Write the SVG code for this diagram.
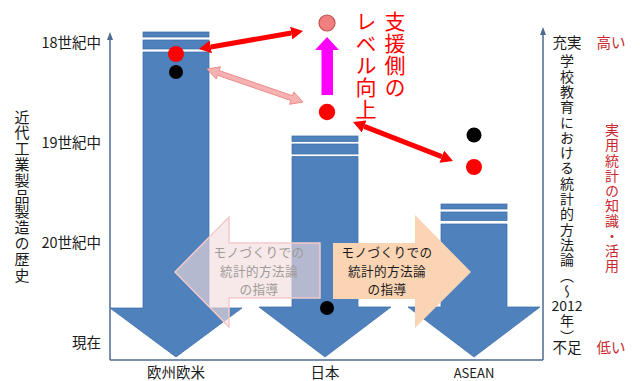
<svg xmlns="http://www.w3.org/2000/svg" width="640" height="381" viewBox="0 0 640 381">
<style>
text{font-family:"Noto Sans CJK JP","Noto Sans",sans-serif;fill:#1a1a1a}
.lbl{font-size:14.5px}
.vt{writing-mode:vertical-rl;text-anchor:start}
.v14{font-size:14px;letter-spacing:1.3px}
.v15{font-size:15px;letter-spacing:0.8px}
.vr{font-size:14px;letter-spacing:1.1px;fill:#c8282e}
.rd{fill:#c8282e}
.big{font-size:21px;letter-spacing:1px;fill:#ff0000}
.bar{fill:#4f81bd;stroke:#3f6ea8;stroke-width:0.75}
.axis{stroke:#4d6a90;stroke-width:1.5;fill:none}
.box{font-size:12.6px;letter-spacing:0.4px;text-anchor:middle}
</style>
<defs>
<marker id="ah" viewBox="0 0 12 13" refX="0" refY="6.5" markerWidth="12" markerHeight="13" markerUnits="userSpaceOnUse" orient="auto-start-reverse">
<path d="M0,0 L12,6.5 L0,13 Z" fill="#ff0000"/>
</marker>
<marker id="ax" viewBox="0 0 8 8" refX="4" refY="4" markerWidth="8" markerHeight="8" markerUnits="userSpaceOnUse" orient="auto">
<path d="M0,1 L8,4 L0,7 Z" fill="#4d6a90"/>
</marker>
</defs>
<rect width="640" height="381" fill="#ffffff"/>

<g id="axes">
<path class="axis" d="M110,360 V36" marker-end="url(#ax)"/>
<path class="axis" d="M543,360 V31" marker-end="url(#ax)"/>
<path class="axis" d="M110,360 H543"/>
</g>

<g id="left-labels">
<text class="lbl" x="101" y="48" text-anchor="end">18世紀中</text>
<text class="lbl" x="101" y="148" text-anchor="end">19世紀中</text>
<text class="lbl" x="101" y="248" text-anchor="end">20世紀中</text>
<text class="lbl" x="101" y="348" text-anchor="end">現在</text>
<text class="vt v15" x="22" y="109.5">近代工業製品製造の歴史</text>
</g>

<g id="europe">
<rect class="bar" x="143" y="32" width="66" height="5"/>
<rect class="bar" x="143" y="40" width="66" height="9"/>
<path class="bar" d="M143,52 H209 V308 H242 L176,357 L110,308 H143 Z"/>
<text class="lbl" x="176" y="378" text-anchor="middle">欧州欧米</text>
</g>

<g id="japan">
<rect class="bar" x="292" y="136" width="66" height="5.5"/>
<rect class="bar" x="292" y="144" width="66" height="10"/>
<path class="bar" d="M292,156.5 H358 V307 H391 L325,357 L259,307 H292 Z"/>
<text class="lbl" x="325" y="378" text-anchor="middle">日本</text>
</g>

<g id="asean">
<rect class="bar" x="441" y="204" width="66" height="5"/>
<rect class="bar" x="441" y="212" width="66" height="8.5"/>
<path class="bar" d="M441,224 H507 V307 H540 L474,357 L408,307 H441 Z"/>
<text x="474" y="378" text-anchor="middle" style="font-size:13px">ASEAN</text>
</g>

<g id="guide-past">
<path d="M320,243 V298 H229 V327 L175,272 L229,217 V243 Z" fill="#f2dcdb" fill-opacity="0.62" stroke="#f3caca" stroke-width="1.5"/>
<text class="box" style="fill:#a09a9a"><tspan x="259" y="257">モノづくりでの</tspan><tspan x="259" y="275.5">統計的方法論</tspan><tspan x="259" y="294">の指導</tspan></text>
</g>

<g id="guide-now">
<path d="M333,243 H415 V215 L471,272 L415,328 V299 H333 Z" fill="#fbd4b4"/>
<text class="box"><tspan x="387" y="257">モノづくりでの</tspan><tspan x="387" y="275.5">統計的方法論</tspan><tspan x="387" y="294">の指導</tspan></text>
</g>

<g id="dots">
<circle cx="176" cy="54" r="8" fill="#ff0000"/>
<circle cx="176" cy="72" r="7" fill="#000000"/>
<circle cx="327" cy="23" r="8" fill="#f08080" stroke="#c0504d" stroke-width="1.2"/>
<circle cx="327" cy="112" r="8.2" fill="#ff0000"/>
<circle cx="474" cy="135" r="7.5" fill="#000000"/>
<circle cx="474" cy="167" r="8" fill="#ff0000"/>
<circle cx="327" cy="308" r="7" fill="#000000"/>
</g>

<g id="connectors">
<line x1="210.8" y1="46.95" x2="291.2" y2="33.05" stroke="#ff0000" stroke-width="5" marker-start="url(#ah)" marker-end="url(#ah)"/>
<line x1="364.2" y1="126.4" x2="441.8" y2="156.6" stroke="#ff0000" stroke-width="5" marker-start="url(#ah)" marker-end="url(#ah)"/>
<polygon points="207,69 216.24,79.05 217.54,75.27 290.84,100.47 289.54,104.25 303,102 293.76,91.95 292.46,95.73 219.16,70.53 220.46,66.75" fill="#f6b2b2" stroke="#ee8a8a" stroke-width="1"/>
<path d="M321.5,95 V50 H315 L327,37 L339,50 H333 V95 Z" fill="#ff00ff"/>
</g>

<g id="support-label">
<text class="vt big" x="395" y="10.5">支援側の</text>
<text class="vt big" x="366" y="10.5">レベル向上</text>
</g>

<g id="right-axis-labels">
<text class="lbl" x="567" y="48" text-anchor="middle">充実</text>
<text class="lbl" x="567" y="353" text-anchor="middle">不足</text>
<text class="vt v14" x="567" y="54">学校教育における統計的方法論（～</text>
<text x="567" y="311" text-anchor="middle" style="font-size:14px">2012</text>
<text class="vt v14" x="567" y="314">年）</text>
</g>

<g id="right-red-labels">
<text class="lbl rd" x="611" y="48" text-anchor="middle">高い</text>
<text class="lbl rd" x="611" y="353" text-anchor="middle">低い</text>
<text class="vt vr" x="612" y="123">実用統計の知識・活用</text>
</g>
</svg>
